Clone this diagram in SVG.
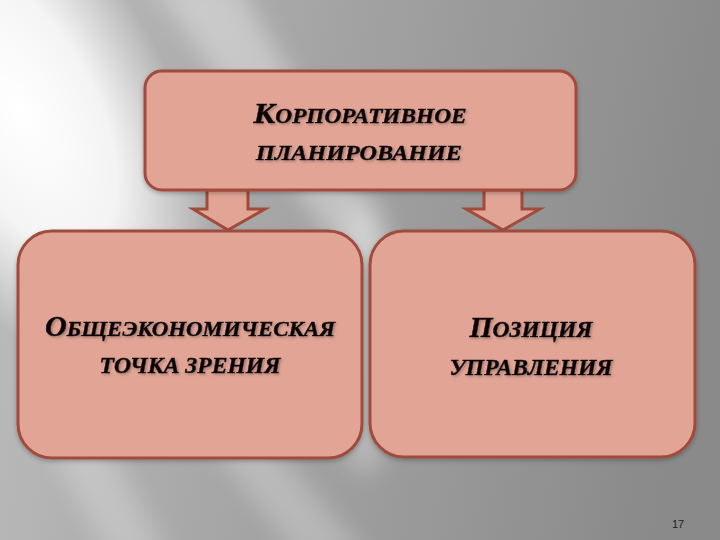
<svg xmlns="http://www.w3.org/2000/svg" width="720" height="540" viewBox="0 0 720 540">
  <defs>
    <linearGradient id="bg" gradientUnits="userSpaceOnUse" x1="0" y1="0" x2="720" y2="120">
      <stop offset="0" stop-color="#bdbdbd"/>
      <stop offset="0.45" stop-color="#a4a4a4"/>
      <stop offset="1" stop-color="#8a8a8a"/>
    </linearGradient>
    <radialGradient id="glow" gradientUnits="userSpaceOnUse" cx="0" cy="0" r="1" gradientTransform="translate(20 110) rotate(62) scale(300 150)">
      <stop offset="0" stop-color="#ffffff" stop-opacity="1"/>
      <stop offset="0.5" stop-color="#ffffff" stop-opacity="0.85"/>
      <stop offset="1" stop-color="#ffffff" stop-opacity="0"/>
    </radialGradient>
    <filter id="blur" x="-50%" y="-50%" width="200%" height="200%">
      <feGaussianBlur stdDeviation="12"/>
    </filter>
    <filter id="tshadow" x="-10%" y="-30%" width="120%" height="160%">
      <feDropShadow dx="1.5" dy="1.5" stdDeviation="0.8" flood-color="#6e5a55" flood-opacity="0.55"/>
    </filter>
    <filter id="bshadow" x="-10%" y="-10%" width="120%" height="130%">
      <feDropShadow dx="0" dy="2" stdDeviation="2" flood-color="#000000" flood-opacity="0.25"/>
    </filter>
  </defs>
  <style>
    .box { fill: #e2a595; stroke: #a04b3c; stroke-width: 3; }
    .arrow { fill: #e2a595; stroke: #a04b3c; stroke-width: 3; stroke-linejoin: miter; }
    .lbl { font-family: "Liberation Serif", "DejaVu Serif", serif; font-weight: bold; font-style: italic; fill: #100606; stroke: #100606; stroke-width: 0.5; text-anchor: middle; }
    .num { font-family: "Liberation Sans", Arial, sans-serif; font-size: 11px; fill: #1e1e1e; }
  </style>

  <!-- background -->
  <rect x="0" y="0" width="720" height="540" fill="url(#bg)"/>
  <rect x="0" y="0" width="720" height="540" fill="url(#glow)"/>
  <g filter="url(#blur)" fill="#ffffff">
    <polygon points="150,-20 235,-20 400,260 345,260" opacity="0.35"/>
    <polygon points="40,430 100,430 170,560 110,560" opacity="0.25"/>
    <polygon points="200,430 260,430 370,560 300,560" opacity="0.25"/>
    <polygon points="350,200 380,200 380,470 350,470" opacity="0.3"/>
  </g>

  <!-- connectors -->
  <g id="connectors">
    <polygon class="arrow" points="207,190 248,190 248,209 265,209 228,230 193,209 207,209"/>
    <polygon class="arrow" points="484,190 522,190 522,209 540,209 503,230 466,209 484,209"/>
  </g>

  <!-- top node -->
  <g id="node-corporate">
    <rect class="box" x="145" y="71" width="431" height="119" rx="17" ry="17" filter="url(#bshadow)"/>
    <text class="lbl" filter="url(#tshadow)" x="360" y="123" textLength="213" lengthAdjust="spacingAndGlyphs"><tspan font-size="29">К</tspan><tspan font-size="21">ОРПОРАТИВНОЕ</tspan></text>
    <text class="lbl" filter="url(#tshadow)" x="359" y="160" font-size="22" textLength="206" lengthAdjust="spacingAndGlyphs">ПЛАНИРОВАНИЕ</text>
  </g>

  <!-- left node -->
  <g id="node-economic">
    <rect class="box" x="18" y="231" width="344" height="227" rx="34" ry="34" filter="url(#bshadow)"/>
    <text class="lbl" filter="url(#tshadow)" x="190" y="336" textLength="290" lengthAdjust="spacingAndGlyphs"><tspan font-size="29">О</tspan><tspan font-size="22">БЩЕЭКОНОМИЧЕСКАЯ</tspan></text>
    <text class="lbl" filter="url(#tshadow)" x="190" y="373" font-size="24" textLength="181" lengthAdjust="spacingAndGlyphs">ТОЧКА ЗРЕНИЯ</text>
  </g>

  <!-- right node -->
  <g id="node-management">
    <rect class="box" x="370" y="231" width="325" height="226" rx="34" ry="34" filter="url(#bshadow)"/>
    <text class="lbl" filter="url(#tshadow)" x="531" y="337" textLength="123" lengthAdjust="spacingAndGlyphs"><tspan font-size="29">П</tspan><tspan font-size="23">ОЗИЦИЯ</tspan></text>
    <text class="lbl" filter="url(#tshadow)" x="531" y="375" font-size="24" textLength="163" lengthAdjust="spacingAndGlyphs">УПРАВЛЕНИЯ</text>
  </g>

  <text class="num" x="672" y="528">17</text>
</svg>
